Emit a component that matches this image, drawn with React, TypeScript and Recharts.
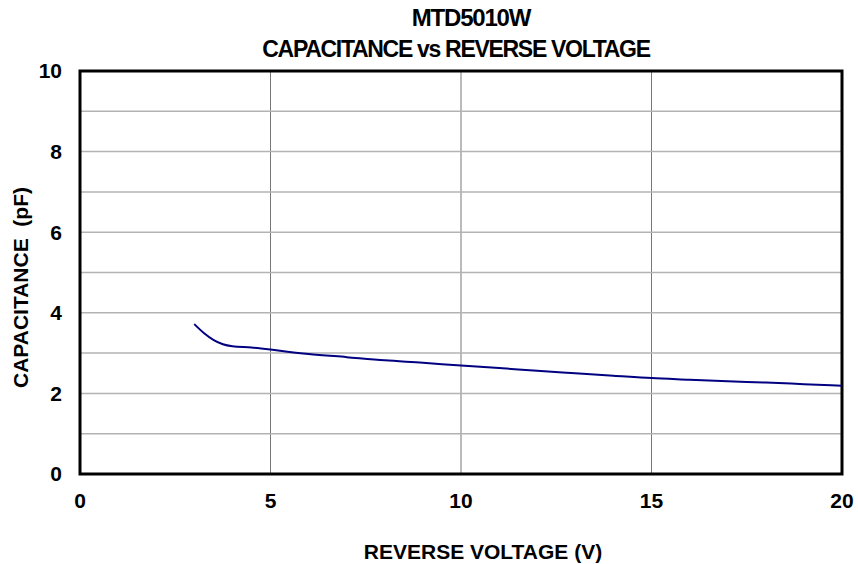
import { LineChart, Line, XAxis, YAxis, CartesianGrid, ReferenceArea } from "recharts";

const VOLTAGE = [3, 3.25, 3.5, 3.75, 4, 4.5, 5, 5.5, 6, 7, 8, 9, 10, 11, 12, 13, 14, 15, 16, 17, 18, 19, 20];
const CAPACITANCE = [3.72, 3.5, 3.33, 3.22, 3.17, 3.14, 3.09, 3.03, 2.98, 2.9, 2.82, 2.76, 2.69, 2.63, 2.56, 2.5, 2.44, 2.38, 2.34, 2.3, 2.27, 2.23, 2.19];
const X_TICKS = [0, 5, 10, 15, 20];
const Y_TICKS = [0, 1, 2, 3, 4, 5, 6, 7, 8, 9, 10];

const data = VOLTAGE.map((v, i) => ({ v, c: CAPACITANCE[i] }));

const FONT = "'Liberation Sans', Arial, sans-serif";
const tickStyle = { fontSize: 21, fontWeight: 700, fill: "#000", fontFamily: FONT };

export default function App() {
  return (
    <div style={{ position: "absolute", left: 0, top: 0, width: 858, height: 564, background: "#fff" }}>
      <LineChart width={858} height={564} data={data} margin={{ top: 71, right: 16, bottom: 0, left: 0 }}>
        <text x={471} y={26} textAnchor="middle" fontFamily={FONT} fontSize={24} fontWeight={700} letterSpacing={-1.2}>
          MTD5010W
        </text>
        <text x={456} y={57} textAnchor="middle" fontFamily={FONT} fontSize={23} fontWeight={700} letterSpacing={-1.3}>
          CAPACITANCE vs REVERSE VOLTAGE
        </text>
        <CartesianGrid horizontal={false} stroke="#777" strokeWidth={1} />
        <CartesianGrid vertical={false} stroke="#b3b3b3" strokeWidth={1.5} />
        <XAxis
          type="number"
          dataKey="v"
          domain={[0, 20]}
          ticks={X_TICKS}
          tick={tickStyle}
          tickLine={false}
          tickSize={0}
          tickMargin={19}
          axisLine={false}
          height={90}
          allowDataOverflow
          label={{ value: "REVERSE VOLTAGE (V)", position: "insideBottom", offset: 5, dx: 22, style: { fontSize: 21, fontWeight: 700, fill: "#000", fontFamily: FONT } }}
        />
        <YAxis
          type="number"
          domain={[0, 10]}
          ticks={Y_TICKS}
          tick={tickStyle}
          tickFormatter={(t: number) => (t % 2 === 0 ? String(t) : "")}
          tickLine={false}
          tickSize={0}
          tickMargin={18}
          axisLine={false}
          width={80}
          allowDataOverflow
          label={{ value: "CAPACITANCE \u00a0(pF)", angle: -90, position: "insideLeft", offset: 21, dy: 15, style: { fontSize: 21, fontWeight: 700, fill: "#000", fontFamily: FONT, textAnchor: "middle" } }}
        />
        <ReferenceArea x1={0} x2={20} y1={0} y2={10} fill="none" stroke="#000" strokeWidth={3} ifOverflow="visible" />
        <Line type="monotone" dataKey="c" stroke="#000080" strokeWidth={2} dot={false} isAnimationActive={false} />
      </LineChart>
    </div>
  );
}
